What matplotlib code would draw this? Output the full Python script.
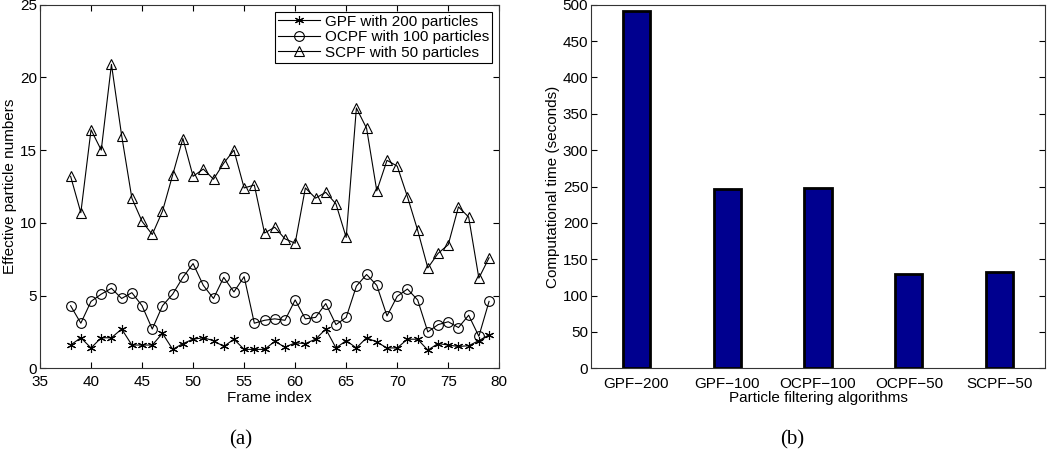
import numpy as np
import matplotlib
matplotlib.use('Agg')
import matplotlib.pyplot as plt

plt.rcParams['font.family'] = ['Liberation Sans', 'DejaVu Sans']

# (a) effective particle numbers per frame
frames = list(range(38, 80))
gpf_200 = [1.6, 2.1, 1.4, 2.1, 2.1, 2.7, 1.6, 1.6, 1.6, 2.4, 1.3, 1.7, 2.0, 2.1,
           1.9, 1.5, 2.0, 1.3, 1.3, 1.3, 1.85, 1.45, 1.75, 1.7, 2.0, 2.7, 1.4, 1.9,
           1.4, 2.1, 1.8, 1.4, 1.4, 2.0, 2.0, 1.25, 1.7, 1.6, 1.5, 1.55, 1.9, 2.3]
ocpf_100 = [4.3, 3.1, 4.6, 5.1, 5.5, 4.8, 5.2, 4.3, 2.7, 4.3, 5.1, 6.25, 7.2, 5.7,
            4.8, 6.25, 5.25, 6.3, 3.1, 3.3, 3.4, 3.3, 4.7, 3.4, 3.5, 4.45, 3.0, 3.5,
            5.65, 6.45, 5.7, 3.6, 4.95, 5.45, 4.7, 2.5, 3.0, 3.2, 2.8, 3.65, 2.2, 4.6]
scpf_50 = [13.2, 10.7, 16.4, 15.0, 20.9, 16.0, 11.7, 10.1, 9.2, 10.8, 13.3, 15.8, 13.2, 13.7,
           13.0, 14.1, 15.0, 12.4, 12.6, 9.3, 9.7, 8.9, 8.6, 12.4, 11.7, 12.1, 11.3, 9.0,
           17.9, 16.5, 12.2, 14.3, 13.9, 11.8, 9.5, 6.9, 7.9, 8.5, 11.1, 10.4, 6.2, 7.6]

# (b) computational time
algorithms = ['GPF\u2212200', 'GPF\u2212100', 'OCPF\u2212100', 'OCPF\u221250', 'SCPF\u221250']
comp_time = [491, 246, 248, 129, 132]


def matlab_axes(ax, xpad=4):
    ax.tick_params(direction='in', top=True, right=True, labelsize=11, length=4,
                   width=0.8, pad=2)
    ax.tick_params(axis='x', pad=xpad)
    for s in ax.spines.values():
        s.set_linewidth(0.8)
        s.set_color('#333333')


def main():
    fig = plt.figure(figsize=(10.5, 4.53), dpi=100)

    # left panel
    ax = fig.add_axes([0.0381, 0.187, 0.4374, 0.8026])
    lw = 0.8
    ax.plot(frames, gpf_200, '-', color='black', lw=lw, marker=(6, 2, 0), ms=6.5,
            mew=0.8, label='GPF with 200 particles')
    ax.plot(frames, ocpf_100, '-', color='black', lw=lw, marker='o', ms=7,
            mfc='none', mew=0.8, label='OCPF with 100 particles')
    ax.plot(frames, scpf_50, '-', color='black', lw=lw, marker='^', ms=7.5,
            mfc='none', mew=0.8, label='SCPF with 50 particles')
    ax.set_xlim(35, 80)
    ax.set_ylim(0, 25)
    ax.set_xticks(range(35, 81, 5))
    ax.set_yticks(range(0, 26, 5))
    matlab_axes(ax, xpad=5)
    ax.set_xlabel('Frame index', fontsize=11, labelpad=1)
    ax.set_ylabel('Effective particle numbers', fontsize=11, labelpad=2)
    leg = ax.legend(loc='upper right', fontsize=11, frameon=True, fancybox=False,
                    edgecolor='black', framealpha=1, handlelength=2.75,
                    borderaxespad=0.45, borderpad=0.2, labelspacing=0.1,
                    handletextpad=0.35)
    leg.get_frame().set_linewidth(0.8)

    # right panel
    bx = fig.add_axes([0.5629, 0.187, 0.4324, 0.8026])
    pos = np.arange(1, len(algorithms) + 1)
    bx.bar(pos, comp_time, width=0.3, color='#00008f', edgecolor='black', linewidth=2)
    bx.set_xlim(0.5, 5.5)
    bx.set_ylim(0, 500)
    bx.set_xticks(pos)
    bx.set_xticklabels(algorithms)
    bx.set_yticks(range(0, 501, 50))
    matlab_axes(bx, xpad=6)
    bx.tick_params(axis='x', top=False, bottom=False)
    bx.set_xlabel('Particle filtering algorithms', fontsize=11, labelpad=0)
    bx.set_ylabel('Computational time (seconds)', fontsize=11, labelpad=2)

    fig.text(0.229, 0.008, '(a)', ha='center', va='bottom', fontsize=15,
             family='Liberation Serif')
    fig.text(0.754, 0.008, '(b)', ha='center', va='bottom', fontsize=15,
             family='Liberation Serif')

    fig.savefig('out.png', dpi=100)


if __name__ == "__main__":
    main()
